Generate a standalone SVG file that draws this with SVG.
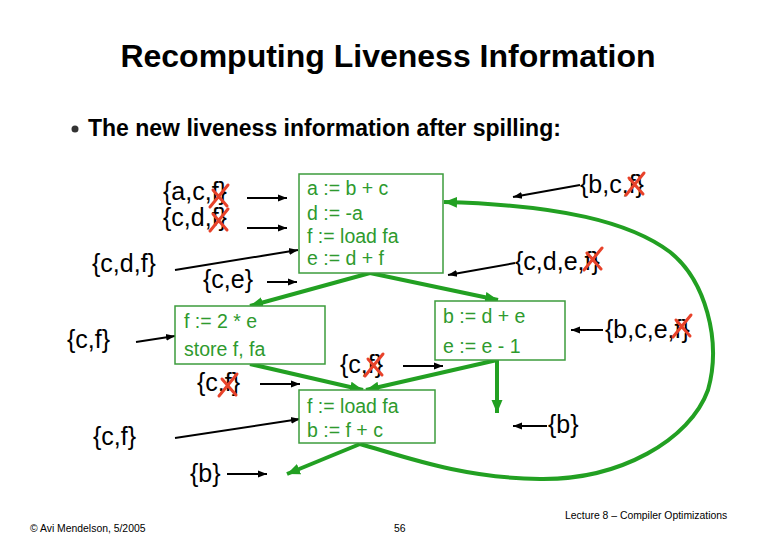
<svg xmlns="http://www.w3.org/2000/svg" width="780" height="540" viewBox="0 0 780 540">
<defs>
<marker id="ah" markerUnits="userSpaceOnUse" markerWidth="10" markerHeight="10" refX="9" refY="5" orient="auto"><path d="M0,1.5 L9,5 L0,8.5 Z" fill="#000"/></marker>
<marker id="gh" markerUnits="userSpaceOnUse" markerWidth="14" markerHeight="14" refX="13" refY="7" orient="auto"><path d="M0,1.5 L13,7 L0,12.5 Z" fill="#22a022"/></marker>
<path id="x" d="M-9,11 L9,-11 M-6,-6 L8,10"/>
</defs>
<style>
.t{font-family:"Liberation Sans",Arial,sans-serif;font-weight:bold;fill:#000}
.lab{font-family:"Liberation Sans",Arial,sans-serif;font-size:25px;fill:#000}
.code{font-family:"Liberation Sans",Arial,sans-serif;font-size:19.5px;fill:#2e9a2e}
.box{fill:#fff;stroke:#3c9c3c;stroke-width:1.5}
.bl{stroke:#000;stroke-width:2;fill:none;marker-end:url(#ah)}
.gr{stroke:#22a022;stroke-width:4;fill:none;marker-end:url(#gh)}
.xm{stroke:#e8422a;stroke-width:3;stroke-linecap:round;fill:none}
.ft{font-family:"Liberation Sans",Arial,sans-serif;font-size:10.4px;fill:#000}
</style>
<rect width="780" height="540" fill="#fff"/>
<text class="t" x="388" y="67" font-size="32" text-anchor="middle">Recomputing Liveness Information</text>
<circle cx="75" cy="129" r="3.5" fill="#333"/>
<text class="t" x="88" y="136" font-size="23">The new liveness information after spilling:</text>

<g id="connectors">
<path class="gr" d="M370,273 L250,306"/>
<path class="gr" d="M370,273 L498,300"/>
<path class="gr" d="M250,364 L363,390"/>
<path class="gr" d="M497,360 L366,390"/>
<path class="gr" d="M497,360 L497,413"/>
<path class="gr" d="M360,444 L287,474"/>
<path class="gr" d="M360,444 C400,455 460,478 540,479 C620,480 690,440 708,390 C722,340 705,280 670,252 C630,222 560,205 444,202"/>
<path class="bl" d="M247,198 L287,198"/>
<path class="bl" d="M247,228 L287,228"/>
<path class="bl" d="M175,270 L298,250"/>
<path class="bl" d="M267,282 L297,282"/>
<path class="bl" d="M136,342 L175,336"/>
<path class="bl" d="M260,384 L300,384"/>
<path class="bl" d="M403,366 L443,366"/>
<path class="bl" d="M175,438 L300,419"/>
<path class="bl" d="M227,474 L267,474"/>
<path class="bl" d="M580,185 L513,197"/>
<path class="bl" d="M515,263 L448,275"/>
<path class="bl" d="M603,330 L571,330"/>
<path class="bl" d="M547,426 L513,426"/>
</g>

<g id="box1">
<rect class="box" x="299" y="174" width="144" height="99"/>
<text class="code" x="307" y="195">a := b + c</text>
<text class="code" x="307" y="220">d := -a</text>
<text class="code" x="307" y="243">f := load fa</text>
<text class="code" x="307" y="265">e := d + f</text>
</g>
<g id="box2">
<rect class="box" x="175" y="306" width="150" height="58"/>
<text class="code" x="184" y="328">f := 2 * e</text>
<text class="code" x="184" y="356">store f, fa</text>
</g>
<g id="box3">
<rect class="box" x="435" y="301" width="130" height="59"/>
<text class="code" x="443" y="323">b := d + e</text>
<text class="code" x="443" y="353">e := e - 1</text>
</g>
<g id="box4">
<rect class="box" x="299" y="390" width="136" height="53"/>
<text class="code" x="307" y="413">f := load fa</text>
<text class="code" x="307" y="437">b := f + c</text>
</g>

<g id="labels">
<text class="lab" x="163" y="200">{a,c,f}</text>
<text class="lab" x="163" y="226">{c,d,f}</text>
<text class="lab" x="92" y="272">{c,d,f}</text>
<text class="lab" x="203" y="288">{c,e}</text>
<text class="lab" x="67" y="348">{c,f}</text>
<text class="lab" x="197" y="391">{c,f}</text>
<text class="lab" x="340" y="373">{c,f}</text>
<text class="lab" x="93" y="445">{c,f}</text>
<text class="lab" x="190" y="482">{b}</text>
<text class="lab" x="580" y="193">{b,c,f}</text>
<text class="lab" x="515" y="270">{c,d,e,f}</text>
<text class="lab" x="605" y="338">{b,c,e,f}</text>
<text class="lab" x="548" y="433">{b}</text>
</g>
<g id="crosses" class="xm">
<use href="#x" x="219" y="196"/>
<use href="#x" x="219" y="220"/>
<use href="#x" x="635" y="184"/>
<use href="#x" x="593" y="259"/>
<use href="#x" x="682" y="326"/>
<use href="#x" x="228" y="385"/>
<use href="#x" x="374" y="365"/>
</g>

<text class="ft" x="30" y="532">© Avi Mendelson, 5/2005</text>
<text class="ft" x="394" y="532">56</text>
<text class="ft" x="565" y="519">Lecture 8 – Compiler Optimizations</text>
</svg>
